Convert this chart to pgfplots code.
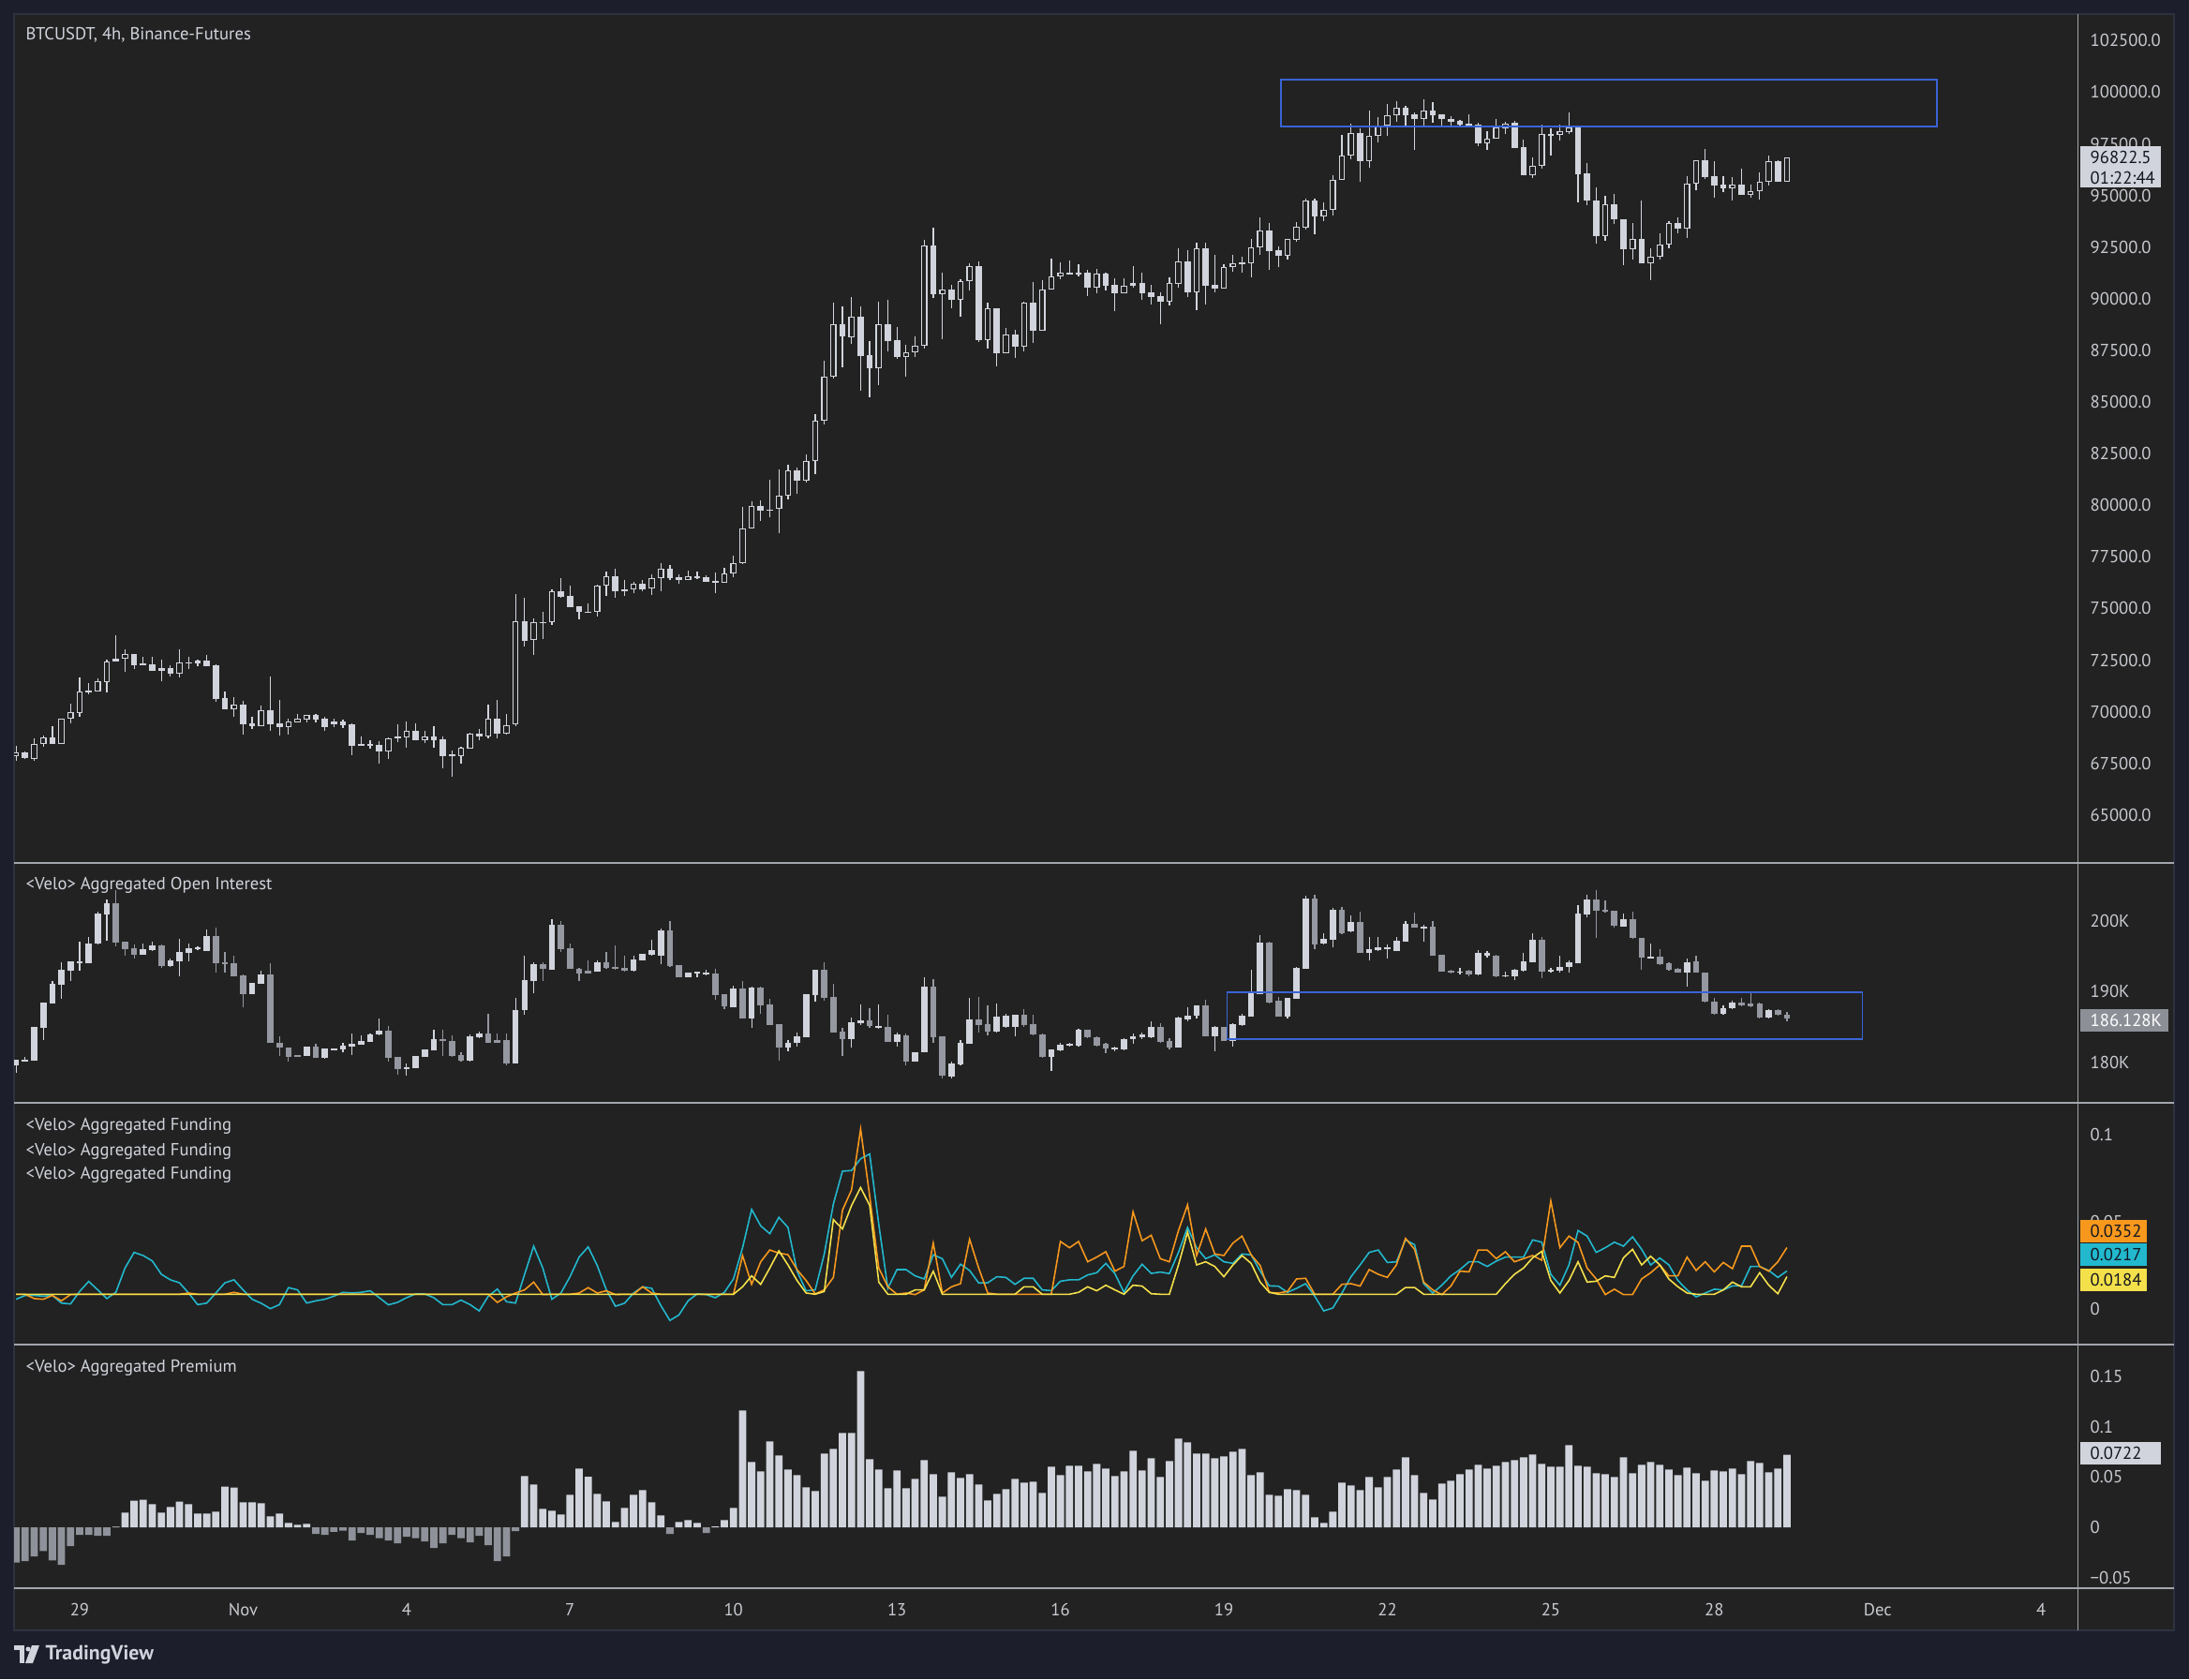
\documentclass[border=0pt]{standalone}
\usepackage{fontspec}
\setmainfont{PT Sans}
\usepackage{pgfplots}
\usepackage{pgfplotstable}
\pgfplotsset{compat=1.18}

\definecolor{outerbg}{HTML}{1C1F2B}
\definecolor{panebg}{HTML}{222222}
\definecolor{panebd}{HTML}{2E3240}
\definecolor{candle}{HTML}{D1D4DC}
\definecolor{oigray}{HTML}{9598A1}
\definecolor{premgray}{HTML}{8F929A}
\definecolor{sep}{HTML}{A3A6AD}
\definecolor{lbl}{HTML}{C8CAD0}
\definecolor{boxblue}{HTML}{3A64D6}
\definecolor{fcyan}{HTML}{22B8CE}
\definecolor{forange}{HTML}{F7981D}
\definecolor{fyellow}{HTML}{F4E04B}
\definecolor{tagtxt}{HTML}{131722}
\definecolor{oitag}{HTML}{8C8F96}

\newcommand\fs{\fontsize{5.3}{6.4}\selectfont}

% BTCUSDT 4h candles, x = bar index (Oct 29 00:00 = 7)
\pgfplotstableread{
x o h l c
0 67839 68353 67642 68020
1 68020 68096 67718 67748
2 67733 68701 67642 68428
3 68428 68852 68292 68761
4 68761 69305 68459 68459
5 68459 69668 68459 69668
6 69653 70394 69457 69986
7 69956 71649 69759 70969
8 70999 71377 70863 70999
9 70999 71604 70999 71468
10 71452 72526 70938 72435
11 72420 73690 72420 72556
12 72556 73010 71951 72783
13 72783 72783 72072 72269
14 72345 72662 72269 72269
15 72284 72662 71997 71997
16 71997 72511 71498 72118
17 72118 72254 71725 71861
18 71861 73040 71679 72375
19 72375 72662 72072 72375
20 72360 72511 72224 72466
21 72466 72753 72224 72224
22 72254 72284 70500 70621
23 70651 70984 70107 70137
24 70137 70712 69759 70334
25 70334 70515 68897 69411
26 69441 69744 69185 69321
27 69321 70288 69321 70077
28 70077 71709 69079 69411
29 69441 70575 68852 69260
30 69275 69683 68897 69532
31 69502 69910 69502 69668
32 69623 69835 69502 69835
33 69835 69895 69502 69638
34 69668 69759 69079 69275
35 69411 69653 69260 69532
36 69532 69638 69215 69351
37 69411 69457 67915 68353
38 68444 68822 68368 68368
39 68444 68625 68232 68353
40 68398 68595 67491 68096
41 68096 68776 67718 68716
42 68701 69381 68550 68807
43 68776 69532 68277 69079
44 69079 69441 68640 68640
45 68640 69079 68504 68791
46 68807 69305 68247 68640
47 68670 68822 67264 67869
48 67899 68126 66856 67899
49 67869 68323 67506 68247
50 68232 69003 68232 68928
51 68943 69154 68625 68822
52 68822 70334 68701 69653
53 69653 70560 68731 68958
54 68958 69910 68882 69366
55 69380 75701 69305 74370
56 74370 75504 73160 73433
57 73463 74521 72752 74325
58 74325 74855 73538 74325
59 74325 75912 74189 75837
60 75837 76457 75535 75580
61 75610 76109 75051 75081
62 75096 75096 74491 74824
63 74824 75232 74794 74824
64 74824 76139 74597 76109
65 76094 76789 75610 76548
66 76548 76910 75535 75852
67 75927 76366 75610 75852
68 75912 76305 75761 76185
69 76185 76366 75852 75942
70 75957 76668 75655 76457
71 76457 77197 75852 76910
72 76910 77122 76366 76487
73 76517 76668 76185 76366
74 76366 76820 76366 76548
75 76548 76789 76411 76472
76 76517 76593 76305 76305
77 76336 76744 75731 76230
78 76230 76971 76230 76683
79 76683 77545 76532 77212
80 77212 79919 77167 78861
81 78861 80191 78861 79964
82 79964 80221 79239 79738
83 79783 81234 79435 79783
84 79813 81733 78634 80448
85 80448 81960 80297 81673
86 81673 81809 80539 81174
87 81174 82444 81098 82157
88 82157 84410 81522 84107
89 84107 86995 83926 86209
90 86209 89823 86148 88749
91 88749 89611 86693 88159
92 88144 90065 87827 89112
93 89112 89611 85559 87237
94 87267 87933 85211 86647
95 86647 89838 85831 88749
96 88749 89944 87434 87963
97 87978 88628 87101 87192
98 87192 87751 86239 87419
99 87419 88160 87192 87706
100 87706 92831 87600 92590
101 92590 93421 90019 90231
102 90231 91244 88038 90427
103 90427 90654 89535 89944
104 89944 90926 89142 90836
105 90836 91728 90397 91577
106 91577 91803 87887 88008
107 88008 89792 87600 89520
108 89520 89520 86738 87373
109 87373 88583 87343 88250
110 88250 88477 87146 87676
111 87676 89868 87449 89792
112 89792 90805 87872 88462
113 88462 90881 88462 90427
114 90427 91924 90427 91062
115 91062 91758 90957 91274
116 91274 91834 91153 91183
117 91244 91682 91078 91153
118 91244 91380 90125 90548
119 90548 91425 90276 91214
120 91214 91259 90397 90624
121 90669 90972 89414 90276
122 90276 90972 90246 90609
123 90609 91577 90548 90745
124 90760 91274 89944 90276
125 90306 90669 89717 90095
126 90125 90322 88779 89868
127 89868 91032 89672 90760
128 90730 92438 90518 91788
129 91788 92333 90065 90322
130 90322 92695 89460 92438
131 92438 92695 89717 90624
132 90669 92106 90322 90503
133 90503 91652 90473 91531
134 91516 92121 91304 91713
135 91713 92030 91259 91728
136 91728 92892 91047 92484
137 92484 93950 92136 93300
138 93300 93648 91380 92317
139 92332 92514 91531 92060
140 92060 92892 91909 92892
141 92862 93708 92771 93466
142 93436 94857 93345 94736
143 94736 94857 93118 93995
144 93995 94661 93768 94283
145 94283 95991 94026 95764
146 95764 97911 95764 96944
147 96944 98486 96747 98002
148 98002 98259 95659 96672
149 96672 99091 96339 97881
150 97881 98789 97579 98380
151 98380 99423 97881 98864
152 98864 99544 98562 99227
153 99227 99318 98305 98894
154 98909 99015 97201 98683
155 98683 99650 98335 99091
156 99091 99499 98532 98894
157 98909 98909 98335 98683
158 98683 98819 98335 98562
159 98592 98637 98335 98441
160 98471 98909 98365 98395
161 98410 98516 97397 97533
162 97533 98108 97201 97730
163 97730 98713 97730 98289
164 98259 98562 97987 98486
165 98516 98607 97307 97307
166 97322 97685 95991 95991
167 95991 96823 95840 96415
168 96415 98410 96294 97957
169 97912 98259 96929 97957
170 97912 98441 97654 98108
171 98078 99015 97957 98289
172 98289 98335 94661 96021
173 96052 96566 94510 94736
174 94736 95387 92665 93043
175 93043 94978 92816 94555
176 94555 95084 93602 93829
177 93829 93829 91606 92408
178 92408 93648 91879 92892
179 92892 94736 91712 91712
180 91712 92438 90896 92015
181 92015 93164 91909 92635
182 92635 93768 92438 93648
183 93648 93920 93164 93406
184 93406 95916 92937 95583
185 95583 96687 95265 96687
186 96687 97231 95795 95885
187 95916 96642 94903 95492
188 95522 95946 95160 95356
189 95356 95886 94736 95507
190 95507 96294 95039 95039
191 95039 95507 94903 95190
192 95190 96097 94812 95674
193 95674 96929 95462 96641
194 96641 96702 95674 95674
195 95674 96823 95674 96822
}\price

% aggregated open interest (thousands)
\pgfplotstableread{
x o h l c
0 179.59 180.39 178.48 180.39
1 180.21 180.70 180.12 180.30
2 180.17 184.99 180.17 184.99
3 184.90 188.44 183.13 188.44
4 188.36 191.45 188.36 191.10
5 190.97 194.11 188.97 193.09
6 193.00 194.29 191.54 194.29
7 194.11 197.08 192.96 194.29
8 194.02 197.74 193.98 196.81
9 196.77 201.28 196.63 201.06
10 200.97 203.05 197.17 202.52
11 202.52 204.38 196.41 196.99
12 197.08 197.08 195.09 196.06
13 196.19 196.63 194.64 195.22
14 195.22 196.86 195.22 195.97
15 195.88 197.08 195.75 196.55
16 196.55 196.63 193.40 193.67
17 193.67 194.64 193.54 194.42
18 194.33 197.52 192.21 195.62
19 195.53 196.86 194.29 196.10
20 195.97 196.41 195.88 196.33
21 195.75 198.85 195.75 197.83
22 197.83 199.07 192.65 194.07
23 194.20 195.62 192.65 193.93
24 194.02 195.09 192.21 192.21
25 192.30 192.43 187.78 189.68
26 189.68 191.23 189.68 191.23
27 191.10 192.96 191.10 192.43
28 192.43 193.98 182.69 182.78
29 182.78 183.66 180.92 182.03
30 182.11 182.11 180.12 180.78
31 181.01 181.01 180.74 180.74
32 180.83 182.25 180.83 182.16
33 182.16 182.60 180.65 180.65
34 180.65 181.94 180.48 181.94
35 181.80 181.94 181.80 181.89
36 181.80 182.69 181.45 182.33
37 182.25 184.11 181.01 182.60
38 182.51 183.80 182.42 183.04
39 182.91 184.02 182.91 183.93
40 183.93 186.23 183.80 184.46
41 184.46 185.08 180.03 180.65
42 180.78 180.78 178.26 179.06
43 179.06 179.81 178.04 179.24
44 179.15 180.83 179.15 180.83
45 180.78 181.76 180.78 181.76
46 181.72 184.55 181.72 183.22
47 183.22 184.55 180.92 182.95
48 183.00 183.80 180.70 180.92
49 181.01 181.45 180.12 180.21
50 180.21 183.93 180.12 183.71
51 183.58 184.33 183.44 184.11
52 184.11 186.90 182.69 182.78
53 183.13 184.02 182.69 182.78
54 183.13 184.02 179.59 179.81
55 179.81 189.11 179.81 187.43
56 187.34 195.09 186.67 191.63
57 191.54 194.11 189.77 193.93
58 193.93 194.11 191.54 193.18
59 193.09 200.31 193.09 199.51
60 199.51 199.96 195.62 196.06
61 196.19 196.86 193.18 193.18
62 193.27 193.31 191.54 192.56
63 192.96 194.42 192.52 192.61
64 192.83 194.42 192.83 194.11
65 194.11 195.62 193.18 193.40
66 193.54 196.50 193.09 193.31
67 193.40 195.09 192.87 193.00
68 192.92 195.09 192.87 194.55
69 194.47 195.35 194.47 195.35
70 195.17 197.30 195.09 195.88
71 195.09 198.98 193.85 198.63
72 198.63 200.04 193.54 193.62
73 193.76 193.76 191.99 191.99
74 191.99 192.65 191.99 192.65
75 192.65 192.78 191.99 192.78
76 192.52 193.09 192.34 192.65
77 192.56 193.23 188.89 189.55
78 189.68 189.68 187.47 187.91
79 187.78 190.88 187.78 190.44
80 190.44 191.45 186.19 186.19
81 186.19 190.75 184.90 190.57
82 190.57 190.66 186.90 188.09
83 188.18 188.97 185.30 185.30
84 185.43 185.43 180.25 182.11
85 182.11 183.13 181.58 182.78
86 182.69 184.24 182.25 183.66
87 183.58 189.64 183.58 189.64
88 189.55 193.09 188.53 193.09
89 193.09 194.20 188.67 189.11
90 189.24 191.10 184.24 184.24
91 184.33 184.90 180.92 183.27
92 183.31 186.32 182.03 185.66
93 185.57 188.22 185.26 185.92
94 185.92 187.65 184.81 185.08
95 184.81 188.22 184.68 185.12
96 184.99 186.67 182.91 182.91
97 182.91 184.24 182.25 183.89
98 183.80 184.02 179.59 180.12
99 180.12 181.45 180.12 181.45
100 181.36 191.99 181.36 190.66
101 190.66 191.76 182.69 183.58
102 183.71 183.71 177.73 178.04
103 177.91 180.03 177.73 179.81
104 179.68 183.13 179.59 182.78
105 182.60 189.11 182.60 186.05
106 186.05 189.24 184.24 185.26
107 185.35 188.09 183.80 184.37
108 184.37 188.36 184.24 186.45
109 185.04 186.90 184.90 186.59
110 184.99 186.76 183.71 186.76
111 186.76 187.47 184.99 185.26
112 185.35 186.67 183.80 183.89
113 183.93 184.02 180.65 180.78
114 180.78 181.80 178.79 181.80
115 181.72 182.78 181.58 182.51
116 182.33 182.69 182.25 182.55
117 182.38 184.77 182.25 184.59
118 184.59 184.59 183.35 183.49
119 183.58 183.66 182.25 182.38
120 182.60 182.69 181.27 181.94
121 181.80 182.25 181.58 182.11
122 181.80 183.35 181.72 183.27
123 183.22 184.02 182.55 183.66
124 183.58 184.24 183.27 183.89
125 183.58 185.79 183.35 185.04
126 185.04 185.57 182.78 182.91
127 183.04 183.35 181.80 182.11
128 182.03 186.45 182.03 186.32
129 186.01 187.78 185.79 186.59
130 186.59 188.09 186.23 188.09
131 188.09 188.89 183.66 183.66
132 183.66 185.12 181.58 184.99
133 184.99 184.99 183.04 183.04
134 183.04 185.57 182.25 185.35
135 185.26 186.90 185.12 186.59
136 186.45 193.09 186.45 189.77
137 189.68 197.96 189.68 196.94
138 196.94 197.08 188.36 188.44
139 188.67 189.24 186.45 186.45
140 186.45 189.11 186.14 189.11
141 189.02 193.54 188.97 193.31
142 193.23 203.63 193.23 203.19
143 203.19 203.72 195.97 196.63
144 196.77 198.27 196.63 197.52
145 197.39 201.81 196.33 201.64
146 201.64 201.95 198.18 198.32
147 198.54 200.84 198.41 199.87
148 199.87 201.28 195.44 195.53
149 195.53 197.74 194.42 195.97
150 195.88 197.74 195.75 196.28
151 196.10 196.63 194.73 196.28
152 195.75 197.74 195.75 197.21
153 197.12 199.96 197.08 199.60
154 199.60 201.19 199.07 199.07
155 199.07 199.51 197.08 199.20
156 199.16 199.96 195.09 195.09
157 195.17 195.17 192.78 192.87
158 192.96 193.09 192.52 192.74
159 192.74 193.31 192.43 192.87
160 192.96 193.09 192.21 192.43
161 192.43 195.88 192.34 195.44
162 195.09 195.75 194.86 195.44
163 195.09 195.17 191.99 192.21
164 192.21 192.87 192.07 192.34
165 192.21 193.23 191.63 193.09
166 193.00 195.44 192.87 194.29
167 194.20 198.27 194.11 197.39
168 197.39 197.74 191.90 192.78
169 192.78 193.31 192.70 193.09
170 193.00 195.09 192.65 193.54
171 193.45 194.42 192.65 194.11
172 194.07 202.26 193.98 201.06
173 200.97 203.72 200.49 203.05
174 203.05 204.38 197.65 201.50
175 201.59 202.97 201.19 201.28
176 201.42 201.50 199.07 199.29
177 199.20 201.06 199.16 200.31
178 200.31 201.37 197.52 197.61
179 197.61 197.61 193.09 194.86
180 194.73 196.86 194.64 195.00
181 195.00 195.97 193.76 193.85
182 193.98 194.11 193.00 193.09
183 193.18 193.31 192.70 192.74
184 192.74 194.64 190.75 194.20
185 194.29 195.09 192.65 192.65
186 192.65 192.65 188.44 188.53
187 188.53 189.11 186.76 186.90
188 186.90 188.09 186.76 187.69
189 187.65 188.67 187.47 188.44
190 188.44 189.11 187.91 188.00
191 188.31 189.86 187.83 187.91
192 188.31 188.44 186.14 186.36
193 186.36 187.56 186.23 187.43
194 187.43 187.56 186.59 186.67
195 186.76 187.12 185.79 186.13
}\oi

% aggregated funding, three series
\pgfplotstableread{
x cy or ye
0 0.0054 0.0083 0.0083
1 0.0076 0.0083 0.0083
2 0.0076 0.0058 0.0083
3 0.0072 0.0054 0.0083
4 0.0076 0.0076 0.0083
5 0.0032 0.0045 0.0083
6 0.0027 0.0081 0.0083
7 0.0099 0.0083 0.0083
8 0.0157 0.0083 0.0083
9 0.0108 0.0083 0.0083
10 0.0058 0.0083 0.0083
11 0.0095 0.0083 0.0083
12 0.0234 0.0083 0.0083
13 0.0324 0.0083 0.0083
14 0.0306 0.0083 0.0083
15 0.0275 0.0083 0.0083
16 0.0198 0.0083 0.0083
17 0.0166 0.0083 0.0083
18 0.0149 0.0083 0.0083
19 0.0090 0.0090 0.0083
20 0.0023 0.0083 0.0083
21 0.0032 0.0083 0.0083
22 0.0090 0.0083 0.0083
23 0.0149 0.0083 0.0083
24 0.0166 0.0094 0.0083
25 0.0108 0.0083 0.0083
26 0.0054 0.0083 0.0083
27 0.0031 0.0083 0.0083
28 0.0000 0.0083 0.0083
29 0.0023 0.0083 0.0083
30 0.0121 0.0083 0.0083
31 0.0108 0.0083 0.0083
32 0.0032 0.0083 0.0083
33 0.0045 0.0083 0.0083
34 0.0054 0.0083 0.0083
35 0.0072 0.0083 0.0083
36 0.0094 0.0083 0.0083
37 0.0090 0.0083 0.0083
38 0.0094 0.0083 0.0083
39 0.0103 0.0083 0.0083
40 0.0063 0.0083 0.0083
41 0.0022 0.0083 0.0083
42 0.0036 0.0083 0.0083
43 0.0063 0.0083 0.0083
44 0.0085 0.0083 0.0083
45 0.0085 0.0083 0.0083
46 0.0063 0.0083 0.0083
47 0.0023 0.0083 0.0083
48 0.0023 0.0083 0.0083
49 0.0049 0.0083 0.0083
50 0.0023 0.0083 0.0083
51 -0.0013 0.0083 0.0083
52 0.0072 0.0083 0.0083
53 0.0113 0.0036 0.0083
54 0.0040 0.0068 0.0083
55 0.0032 0.0090 0.0083
56 0.0198 0.0108 0.0083
57 0.0360 0.0153 0.0083
58 0.0234 0.0081 0.0083
59 0.0054 0.0083 0.0083
60 0.0090 0.0083 0.0083
61 0.0184 0.0083 0.0083
62 0.0297 0.0090 0.0083
63 0.0356 0.0121 0.0083
64 0.0248 0.0090 0.0083
65 0.0108 0.0103 0.0083
66 0.0014 0.0081 0.0083
67 0.0031 0.0083 0.0083
68 0.0090 0.0083 0.0083
69 0.0126 0.0126 0.0083
70 0.0117 0.0090 0.0083
71 0.0018 0.0083 0.0083
72 -0.0068 0.0083 0.0083
73 -0.0036 0.0083 0.0083
74 0.0045 0.0083 0.0083
75 0.0085 0.0083 0.0083
76 0.0081 0.0083 0.0083
77 0.0063 0.0083 0.0083
78 0.0094 0.0083 0.0083
79 0.0171 0.0083 0.0083
80 0.0351 0.0306 0.0126
81 0.0572 0.0140 0.0189
82 0.0477 0.0270 0.0140
83 0.0432 0.0338 0.0234
84 0.0526 0.0320 0.0333
85 0.0468 0.0311 0.0252
86 0.0216 0.0225 0.0162
87 0.0103 0.0162 0.0090
88 0.0108 0.0085 0.0083
89 0.0315 0.0108 0.0099
90 0.0603 0.0180 0.0513
91 0.0792 0.0567 0.0459
92 0.0796 0.0684 0.0594
93 0.0864 0.1035 0.0698
94 0.0891 0.0648 0.0594
95 0.0486 0.0234 0.0153
96 0.0117 0.0126 0.0083
97 0.0225 0.0083 0.0083
98 0.0225 0.0090 0.0083
99 0.0189 0.0081 0.0108
100 0.0171 0.0108 0.0108
101 0.0310 0.0378 0.0216
102 0.0288 0.0090 0.0083
103 0.0180 0.0126 0.0083
104 0.0256 0.0144 0.0083
105 0.0220 0.0400 0.0083
106 0.0148 0.0234 0.0083
107 0.0149 0.0090 0.0083
108 0.0184 0.0083 0.0083
109 0.0180 0.0083 0.0083
110 0.0140 0.0083 0.0083
111 0.0175 0.0083 0.0126
112 0.0175 0.0083 0.0126
113 0.0108 0.0083 0.0083
114 0.0104 0.0083 0.0083
115 0.0158 0.0387 0.0083
116 0.0166 0.0351 0.0083
117 0.0166 0.0387 0.0094
118 0.0194 0.0270 0.0126
119 0.0207 0.0297 0.0103
120 0.0261 0.0328 0.0135
121 0.0202 0.0216 0.0108
122 0.0094 0.0243 0.0083
123 0.0189 0.0558 0.0135
124 0.0256 0.0391 0.0130
125 0.0203 0.0423 0.0086
126 0.0211 0.0288 0.0083
127 0.0202 0.0270 0.0083
128 0.0324 0.0450 0.0252
129 0.0468 0.0598 0.0441
130 0.0351 0.0306 0.0252
131 0.0288 0.0459 0.0270
132 0.0310 0.0315 0.0243
133 0.0270 0.0306 0.0184
134 0.0261 0.0378 0.0252
135 0.0315 0.0418 0.0306
136 0.0310 0.0310 0.0261
137 0.0216 0.0248 0.0153
138 0.0131 0.0094 0.0094
139 0.0130 0.0090 0.0083
140 0.0094 0.0099 0.0083
141 0.0117 0.0171 0.0083
142 0.0144 0.0175 0.0083
143 0.0072 0.0083 0.0083
144 -0.0013 0.0083 0.0083
145 0.0004 0.0083 0.0083
146 0.0090 0.0140 0.0083
147 0.0184 0.0144 0.0083
148 0.0252 0.0130 0.0083
149 0.0324 0.0225 0.0083
150 0.0338 0.0198 0.0083
151 0.0266 0.0180 0.0083
152 0.0270 0.0252 0.0083
153 0.0396 0.0405 0.0122
154 0.0369 0.0342 0.0122
155 0.0144 0.0153 0.0083
156 0.0090 0.0108 0.0083
157 0.0135 0.0081 0.0083
158 0.0189 0.0130 0.0083
159 0.0225 0.0216 0.0083
160 0.0270 0.0212 0.0083
161 0.0270 0.0338 0.0083
162 0.0243 0.0338 0.0083
163 0.0274 0.0288 0.0083
164 0.0297 0.0328 0.0144
165 0.0297 0.0270 0.0198
166 0.0297 0.0288 0.0234
167 0.0396 0.0306 0.0293
168 0.0383 0.0279 0.0330
169 0.0198 0.0621 0.0162
170 0.0135 0.0351 0.0090
171 0.0252 0.0418 0.0162
172 0.0450 0.0382 0.0270
173 0.0418 0.0234 0.0153
174 0.0324 0.0171 0.0158
175 0.0351 0.0081 0.0189
176 0.0383 0.0112 0.0180
177 0.0360 0.0081 0.0293
178 0.0414 0.0081 0.0342
179 0.0342 0.0171 0.0252
180 0.0252 0.0207 0.0302
181 0.0292 0.0252 0.0252
182 0.0252 0.0189 0.0171
183 0.0162 0.0189 0.0126
184 0.0108 0.0297 0.0090
185 0.0068 0.0220 0.0083
186 0.0090 0.0270 0.0083
187 0.0112 0.0212 0.0083
188 0.0108 0.0266 0.0108
189 0.0131 0.0230 0.0153
190 0.0131 0.0360 0.0126
191 0.0243 0.0360 0.0126
192 0.0243 0.0243 0.0207
193 0.0220 0.0216 0.0135
194 0.0180 0.0270 0.0086
195 0.0217 0.0352 0.0184
}\fund

% aggregated premium
\pgfplotstableread{
x p
0 -0.0351
1 -0.0336
2 -0.0289
3 -0.0236
4 -0.0330
5 -0.0373
6 -0.0187
7 -0.0075
8 -0.0075
9 -0.0084
10 -0.0084
11 0.0006
12 0.0146
13 0.0264
14 0.0274
15 0.0230
16 0.0146
17 0.0202
18 0.0255
19 0.0230
20 0.0137
21 0.0137
22 0.0155
23 0.0404
24 0.0395
25 0.0249
26 0.0249
27 0.0239
28 0.0109
29 0.0137
30 0.0044
31 0.0025
32 0.0034
33 -0.0065
34 -0.0075
35 -0.0044
36 -0.0034
37 -0.0131
38 -0.0056
39 -0.0075
40 -0.0109
41 -0.0131
42 -0.0159
43 -0.0093
44 -0.0109
45 -0.0140
46 -0.0205
47 -0.0159
48 -0.0075
49 -0.0109
50 -0.0149
51 -0.0084
52 -0.0177
53 -0.0336
54 -0.0289
55 -0.0037
56 0.0510
57 0.0426
58 0.0183
59 0.0165
60 0.0127
61 0.0323
62 0.0585
63 0.0504
64 0.0333
65 0.0258
66 0.0053
67 0.0193
68 0.0323
69 0.0370
70 0.0249
71 0.0118
72 -0.0065
73 0.0053
74 0.0072
75 0.0044
76 -0.0056
77 0.0009
78 0.0072
79 0.0193
80 0.1163
81 0.0650
82 0.0557
83 0.0855
84 0.0715
85 0.0575
86 0.0519
87 0.0398
88 0.0361
89 0.0734
90 0.0780
91 0.0939
92 0.0939
93 0.1555
94 0.0678
95 0.0575
96 0.0389
97 0.0566
98 0.0389
99 0.0482
100 0.0669
101 0.0529
102 0.0305
103 0.0547
104 0.0491
105 0.0529
106 0.0426
107 0.0267
108 0.0333
109 0.0379
110 0.0482
111 0.0445
112 0.0454
113 0.0342
114 0.0603
115 0.0519
116 0.0613
117 0.0613
118 0.0557
119 0.0631
120 0.0585
121 0.0510
122 0.0557
123 0.0762
124 0.0566
125 0.0687
126 0.0501
127 0.0659
128 0.0883
129 0.0846
130 0.0734
131 0.0734
132 0.0687
133 0.0706
134 0.0752
135 0.0780
136 0.0519
137 0.0547
138 0.0323
139 0.0314
140 0.0379
141 0.0370
142 0.0323
143 0.0100
144 0.0044
145 0.0155
146 0.0445
147 0.0417
148 0.0370
149 0.0501
150 0.0398
151 0.0501
152 0.0575
153 0.0697
154 0.0519
155 0.0342
156 0.0277
157 0.0435
158 0.0463
159 0.0529
160 0.0575
161 0.0622
162 0.0585
163 0.0613
164 0.0650
165 0.0669
166 0.0697
167 0.0724
168 0.0631
169 0.0603
170 0.0603
171 0.0818
172 0.0613
173 0.0603
174 0.0538
175 0.0529
176 0.0501
177 0.0697
178 0.0538
179 0.0622
180 0.0650
181 0.0622
182 0.0575
183 0.0519
184 0.0594
185 0.0538
186 0.0463
187 0.0566
188 0.0557
189 0.0585
190 0.0529
191 0.0659
192 0.0641
193 0.0547
194 0.0585
195 0.0722
}\prem

\pgfplotsset{
  pane/.style={
    scale only axis, width=22.02cm, anchor=south west,
    xmin=-0.22, xmax=227, scaled ticks=false,
    axis line style={draw=none}, tick style={draw=none}, major tick length=0pt,
    xtick=\empty, yticklabel pos=right,
    yticklabel style={anchor=west, inner sep=0pt, xshift=1.3mm, text=lbl, font=\fs},
    xticklabel style={anchor=center, inner sep=0pt, yshift=-2.3mm, text=lbl, font=\fs},
  },
  stick/.style 2 args={draw=none, mark=none, forget plot,
    error bars/y dir=both, error bars/y explicit, error bars/error mark=none,
    error bars/error bar style={draw=#1, line width=#2}},
}

\begin{document}
\begin{tikzpicture}
\fill[outerbg] (0,0) rectangle (23.36,17.92);
\fill[panebg] (0.15,0.52) rectangle (23.20,17.77);
\draw[panebd, line width=0.5pt] (0.15,0.52) rectangle (23.20,17.77);

% ---------- price ----------
\begin{axis}[pane, at={(0.15cm,8.71cm)}, height=9.06cm, ymin=62682, ymax=103783,
  ytick={65000,67500,70000,72500,75000,77500,80000,82500,85000,87500,90000,92500,95000,97500,100000,102500},
  yticklabels={65000.0,67500.0,70000.0,72500.0,75000.0,77500.0,80000.0,82500.0,85000.0,87500.0,90000.0,92500.0,95000.0,97500.0,100000.0,102500.0}]
\addplot[stick={candle}{0.35pt}] table[x=x, y expr={(\thisrow{h}+\thisrow{l})/2}, y error expr={(\thisrow{h}-\thisrow{l})/2}] {\price};
\addplot[stick={candle}{1.9pt}, restrict expr to domain={\thisrow{o}-\thisrow{c}}{1:100000}]
  table[x=x, y expr={(\thisrow{o}+\thisrow{c})/2}, y error expr={max((\thisrow{o}-\thisrow{c})/2,25)}] {\price};
\addplot[stick={candle}{1.9pt}, restrict expr to domain={\thisrow{c}-\thisrow{o}}{0:100000}]
  table[x=x, y expr={(\thisrow{o}+\thisrow{c})/2}, y error expr={max((\thisrow{c}-\thisrow{o})/2,25)}] {\price};
\addplot[stick={panebg}{1.2pt}, restrict expr to domain={\thisrow{c}-\thisrow{o}}{150:100000}]
  table[x=x, y expr={(\thisrow{o}+\thisrow{c})/2}, y error expr={(\thisrow{c}-\thisrow{o})/2-45}] {\price};
\draw[boxblue, line width=0.45pt] (axis cs:139.3,98335) rectangle (axis cs:211.5,100608);
\end{axis}

% ---------- open interest ----------
\begin{axis}[pane, at={(0.15cm,6.15cm)}, height=2.56cm, ymin=174.24, ymax=208.23,
  ytick={180,190,200}, yticklabels={180K,190K,200K}]
\addplot[stick={candle}{0.35pt}, restrict expr to domain={\thisrow{c}-\thisrow{o}}{0:1000}]
  table[x=x, y expr={(\thisrow{h}+\thisrow{l})/2}, y error expr={(\thisrow{h}-\thisrow{l})/2}] {\oi};
\addplot[stick={oigray}{0.35pt}, restrict expr to domain={\thisrow{o}-\thisrow{c}}{0.0001:1000}]
  table[x=x, y expr={(\thisrow{h}+\thisrow{l})/2}, y error expr={(\thisrow{h}-\thisrow{l})/2}] {\oi};
\addplot[stick={candle}{1.9pt}, restrict expr to domain={\thisrow{c}-\thisrow{o}}{0:1000}]
  table[x=x, y expr={(\thisrow{o}+\thisrow{c})/2}, y error expr={max((\thisrow{c}-\thisrow{o})/2,0.07)}] {\oi};
\addplot[stick={oigray}{1.9pt}, restrict expr to domain={\thisrow{o}-\thisrow{c}}{0.0001:1000}]
  table[x=x, y expr={(\thisrow{o}+\thisrow{c})/2}, y error expr={max((\thisrow{o}-\thisrow{c})/2,0.07)}] {\oi};
\draw[boxblue, line width=0.45pt] (axis cs:133.35,183.27) rectangle (axis cs:203.3,189.91);
\end{axis}

% ---------- funding ----------
\begin{axis}[pane, at={(0.15cm,3.57cm)}, height=2.58cm, ymin=-0.0207, ymax=0.1186,
  ytick={0,0.05,0.1}, yticklabels={0,0.05,0.1}]
\addplot[fcyan, line width=0.45pt, mark=none] table[x=x, y=cy] {\fund};
\addplot[forange, line width=0.45pt, mark=none] table[x=x, y=or] {\fund};
\addplot[fyellow, line width=0.45pt, mark=none] table[x=x, y=ye] {\fund};
\end{axis}

% ---------- premium ----------
\begin{axis}[pane, at={(0.15cm,0.97cm)}, height=2.60cm, ymin=-0.0606, ymax=0.1819,
  ytick={-0.05,0,0.05,0.1,0.15}, yticklabels={−0.05,0,0.05,0.1,0.15},
  xtick={7,25,43,61,79,97,115,133,151,169,187,205,223},
  xticklabels={29,Nov,4,7,10,13,16,19,22,25,28,Dec,4}]
\addplot[ybar, bar width=0.78mm, bar shift=0pt, fill=candle, draw=none, forget plot,
  restrict y to domain=0:1] table[x=x, y=p] {\prem};
\addplot[ybar, bar width=0.78mm, bar shift=0pt, fill=premgray, draw=none, forget plot,
  restrict y to domain=-1:0] table[x=x, y=p] {\prem};
\end{axis}

% pane separators
\draw[sep, line width=0.3pt] (0.15,8.71) -- (23.20,8.71);
\draw[sep, line width=0.3pt] (0.15,6.15) -- (23.20,6.15);
\draw[sep, line width=0.3pt] (0.15,3.57) -- (23.20,3.57);
\draw[sep, line width=0.3pt] (0.15,0.97) -- (23.20,0.97);
\draw[sep, line width=0.3pt] (22.17,0.52) -- (22.17,17.77);

% titles
\node[anchor=west, text=candle, font=\fs, inner sep=0pt] at (0.27,17.55) {BTCUSDT, 4h, Binance-Futures};
\node[anchor=west, text=candle, font=\fs, inner sep=0pt] at (0.27,8.475) {<Velo> Aggregated Open Interest};
\node[anchor=west, text=candle, font=\fs, inner sep=0pt] at (0.27,5.90) {<Velo> Aggregated Funding};
\node[anchor=west, text=candle, font=\fs, inner sep=0pt] at (0.27,5.63) {<Velo> Aggregated Funding};
\node[anchor=west, text=candle, font=\fs, inner sep=0pt] at (0.27,5.38) {<Velo> Aggregated Funding};
\node[anchor=west, text=candle, font=\fs, inner sep=0pt] at (0.27,3.32) {<Velo> Aggregated Premium};

% last-value tags
\fill[candle] (22.20,15.92) rectangle (23.06,16.36);
\node[anchor=west, text=tagtxt, font=\fs, inner sep=0pt] at (22.30,16.24) {96822.5};
\node[anchor=west, text=tagtxt, font=\fs, inner sep=0pt] at (22.30,16.02) {01:22:44};
\fill[oitag] (22.20,6.91) rectangle (23.14,7.15);
\node[anchor=west, text=white, font=\fs, inner sep=0pt] at (22.30,7.03) {186.128K};
\fill[forange] (22.20,4.66) rectangle (22.91,4.90);
\node[anchor=west, text=tagtxt, font=\fs, inner sep=0pt] at (22.30,4.78) {0.0352};
\fill[fcyan] (22.20,4.41) rectangle (22.91,4.65);
\node[anchor=west, text=tagtxt, font=\fs, inner sep=0pt] at (22.30,4.53) {0.0217};
\fill[fyellow] (22.20,4.14) rectangle (22.91,4.38);
\node[anchor=west, text=tagtxt, font=\fs, inner sep=0pt] at (22.30,4.26) {0.0184};
\fill[candle] (22.20,2.29) rectangle (23.06,2.53);
\node[anchor=west, text=tagtxt, font=\fs, inner sep=0pt] at (22.30,2.41) {0.0722};

% logo
\fill[candle] (0.15,0.31) rectangle (0.26,0.36);
\fill[candle] (0.205,0.17) rectangle (0.26,0.31);
\fill[candle] (0.30,0.32) circle (0.025);
\fill[candle] (0.34,0.36) -- (0.42,0.36) -- (0.35,0.17) -- (0.27,0.17) -- cycle;
\node[anchor=west, text=candle, font=\fontsize{6.2}{7}\selectfont\bfseries, inner sep=0pt] at (0.48,0.26) {TradingView};

\pgfresetboundingbox
\useasboundingbox (0,0) rectangle (23.36,17.92);
\end{tikzpicture}
\end{document}
